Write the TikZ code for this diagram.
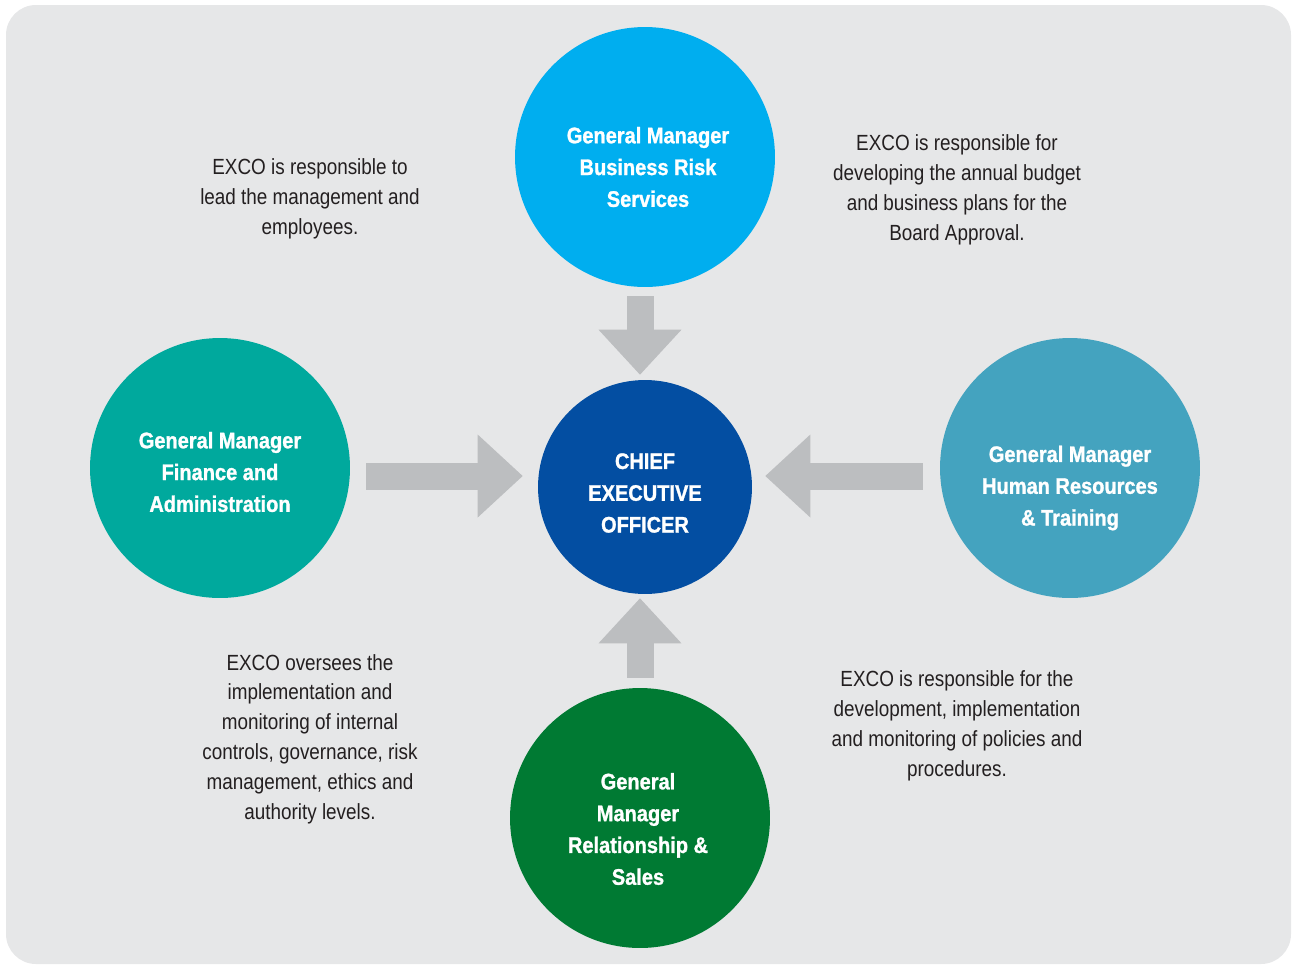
\documentclass[tikz,border=0pt]{standalone}
\usepackage{xcolor}
\usepackage{fontspec}
\setmainfont{Liberation Sans}
\newfontfamily\notefont[FakeStretch=0.86]{Liberation Sans}
\newfontfamily\headfont[FakeStretch=0.89, FakeBold=1.2]{Liberation Sans Bold}
\usepackage{tikz}
\usetikzlibrary{positioning, arrows.meta}

\definecolor{panelgrey}{HTML}{E6E7E8}
\definecolor{arrowgrey}{HTML}{BCBEC0}
\definecolor{notegrey}{HTML}{231F20}
\definecolor{riskblue}{HTML}{00AEEF}
\definecolor{ceoblue}{HTML}{034EA2}
\definecolor{financeteal}{HTML}{00A99D}
\definecolor{hrblue}{HTML}{44A3BF}
\definecolor{salesgreen}{HTML}{007A33}

\begin{document}
\begin{tikzpicture}[x=0.02cm, y=-0.02cm]

			% Styles
			\tikzset{
				manager/.style={
					circle, draw=none, minimum size=5.2cm, inner sep=0pt
				},
				chief/.style={
					circle, draw=none, minimum size=4.28cm, inner sep=0pt, fill=ceoblue
				},
				title/.style={
					align=center, text=white, inner sep=0pt,
					font=\headfont\fontsize{12.8}{18.1}\selectfont
				},
				note/.style={
					align=center, text=notegrey, inner sep=0pt,
					font=\notefont\fontsize{12.5}{17}\selectfont
				},
				blockarrow/.style={
					line width=0.54cm, draw=arrowgrey,
					-{Triangle[length=0.9cm, width=1.66cm, line width=0pt]}
				}
			}

			% Panel
			\useasboundingbox (0,0) rectangle (1292,965);
			\fill[panelgrey, rounded corners=0.6cm] (6,5) rectangle (1291,964);

			% Chief executive
			\node (ceo) [chief] at (645,487) {};
			\node (ceo-t) [title] at (645,493) {CHIEF\\EXECUTIVE\\OFFICER};

			% General managers
			\node (risk) [manager, fill=riskblue] at (645,157) {};
			\node (risk-t) [title] at (648,167) {General Manager\\Business Risk\\Services};

			\node (finance) [manager, fill=financeteal] at (220,468) {};
			\node (finance-t) [title] at (220,472) {General Manager\\Finance and\\Administration};

			\node (hr) [manager, fill=hrblue] at (1070,468) {};
			\node (hr-t) [title] at (1070,488) {General Manager\\Human Resources\\\& Training};

			\node (sales) [manager, fill=salesgreen] at (640,818) {};
			\node (sales-t) [title] at (638,829) {General\\Manager\\Relationship \&\\Sales};

			% Notes
			\node (note-lead) [note] at (310,199) {EXCO is responsible to\\lead the management and\\employees.};
			\node (note-budget) [note] at (957,190) {EXCO is responsible for\\developing the annual budget\\and business plans for the\\Board Approval.};
			\node (note-controls) [note] at (310,739) {EXCO oversees the\\implementation and\\monitoring of internal\\controls, governance, risk\\management, ethics and\\authority levels.};
			\node (note-policies) [note] at (957,726) {EXCO is responsible for the\\development, implementation\\and monitoring of policies and\\procedures.};

			% Arrows into the chief executive
			\coordinate (row) at (0,476);
			\draw[blockarrow, shorten <=0.18cm, shorten >=0.1cm] (risk.south -| sales) -- (ceo.north -| sales);
			\draw[blockarrow, shorten <=0.2cm, shorten >=0.08cm] (sales.north) -- (ceo.south -| sales);
			\draw[blockarrow, shorten <=0.32cm, shorten >=0.3cm] (finance.east |- row) -- (ceo.west |- row);
			\draw[blockarrow, shorten <=0.34cm, shorten >=0.26cm] (hr.west |- row) -- (ceo.east |- row);

\end{tikzpicture}
\end{document}
